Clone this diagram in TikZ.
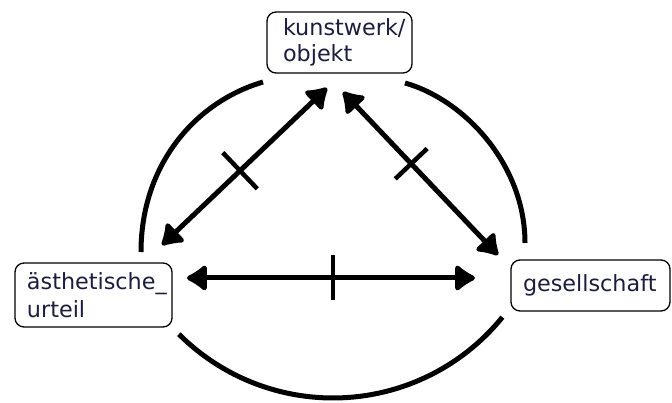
\documentclass[tikz,border=0pt]{standalone}
\usepackage{fontspec}
\setmainfont{DejaVu Sans}
\usetikzlibrary{arrows.meta,calc}
\definecolor{txt}{RGB}{28,28,62}
\setlength{\parindent}{0pt}
\begin{document}
\begin{tikzpicture}[x=1pt,y=-1pt,
  box/.style={draw=black, line width=1.3pt, rounded corners=9pt, text=txt, inner sep=0pt, align=left},
  dblarrow/.style={line width=5pt, {Latex[length=23pt,width=32pt,round]}-{Latex[length=23pt,width=32pt,round]}},
  ringarc/.style={line width=5pt},
  ticklin/.style={line width=4.5pt}]
\useasboundingbox (0,0) rectangle (672,403);

% boxes
\node[box, minimum width=145pt, minimum height=61pt, text width=145pt,
      font=\fontsize{22.3}{26}\selectfont] (obj) at (339.5,42.5)
  {\hspace*{16pt}kunstwerk/\\\hspace*{16pt}objekt};
\node[box, minimum width=157pt, minimum height=64pt, text width=157pt,
      font=\fontsize{22.3}{27.5}\selectfont] (urt) at (93.5,295)
  {\hspace*{12pt}ästhetische\_\\\hspace*{12pt}urteil};
\node[box, minimum width=159pt, minimum height=51pt, text width=159pt,
      font=\fontsize{22.3}{26}\selectfont] (ges) at (590.5,285.5)
  {\hspace*{12pt}gesellschaft};

% arcs of the ring
\draw[ringarc] (263,82) .. controls (195,102) and (141,165) .. (141,252);
\draw[ringarc] (405,83) .. controls (465,100) and (525,165) .. (525,243);
\draw[ringarc] plot[domain=225:321, samples=60] ({333+218*cos(\x)}, {180-218*sin(\x)});

% arrow end points
\coordinate (hl) at (187,278);
\coordinate (hr) at (475,278);
\coordinate (dl1) at (162,245);
\coordinate (dl2) at (327,88);
\coordinate (dr1) at (343,92);
\coordinate (dr2) at (498,255);

\draw[dblarrow] (dl1) -- (dl2);
\draw[dblarrow] (dr1) -- (dr2);
\draw[dblarrow] (hl) -- (hr);

% ticks
\coordinate (tl) at ($(dl1)!0.473!(dl2)$);
\coordinate (tr) at ($(dr1)!0.44!(dr2)$);
\coordinate (th) at ($(hl)!0.507!(hr)$);
\draw[ticklin] ($(tl)!25pt!90:(dl2)$) -- ($(tl)!25pt!-90:(dl2)$);
\draw[ticklin] ($(tr)!22pt!90:(dr2)$) -- ($(tr)!22pt!-90:(dr2)$);
\draw[ticklin] ($(th)!22.5pt!90:(hr)$) -- ($(th)!22.5pt!-90:(hr)$);
\end{tikzpicture}
\end{document}
